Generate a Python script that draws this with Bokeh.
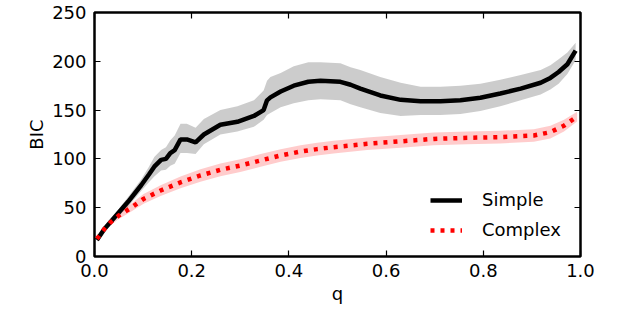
from bokeh.plotting import figure
from bokeh.models import Range1d, LinearAxis, FixedTicker, Legend, LegendItem, CustomLabelingPolicy
from bokeh.embed import file_html
from bokeh.resources import INLINE

# ---- data ----
x_ticks = [0.0, 0.2, 0.4, 0.6, 0.8, 1.0]
x_tick_labels = ["0.0", "0.2", "0.4", "0.6", "0.8", "1.0"]
y_ticks = [0, 50, 100, 150, 200, 250]
y_tick_labels = ["0", "50", "100", "150", "200", "250"]

simple_q = [0.005, 0.02, 0.041, 0.069, 0.096, 0.112, 0.123, 0.137, 0.147, 0.156,
            0.165, 0.177, 0.19, 0.208, 0.225, 0.259, 0.294, 0.328, 0.348, 0.355,
            0.362, 0.383, 0.41, 0.44, 0.465, 0.506, 0.527, 0.547, 0.588, 0.63,
            0.671, 0.712, 0.753, 0.794, 0.835, 0.877, 0.918, 0.938, 0.955, 0.973, 0.99]
simple_mean = [17, 28, 40, 56, 73, 84, 92, 99, 100, 106,
               109, 120, 120, 117, 125, 135, 138, 144, 150, 160,
               163, 169, 175, 179, 180, 179, 176, 172, 165, 160.5,
               159, 159, 160, 162.6, 167, 172, 178, 183, 189, 197, 211]
simple_lo = [15, 26, 37, 51, 67, 76, 82, 88, 89, 93,
             95, 106, 106, 105, 115, 125, 128, 133, 140, 145,
             147, 153, 157, 160, 161, 160, 156, 153, 147, 144,
             145, 145, 146, 149, 154, 160, 166, 171, 177, 187, 201]
simple_hi = [19, 30, 43, 61, 79, 92, 102, 109, 112, 119,
             124, 136, 136, 132, 141, 150, 154, 160, 170, 180,
             184, 188, 195, 199, 199, 198, 194, 191, 184, 178,
             174, 174, 175, 177, 181, 186, 191, 196, 202, 209, 219]

complex_q = [0.005, 0.02, 0.033, 0.05, 0.074, 0.101, 0.136, 0.177, 0.218, 0.259,
             0.30, 0.342, 0.383, 0.424, 0.458, 0.492, 0.561, 0.63, 0.698, 0.767,
             0.835, 0.904, 0.938, 0.966, 0.993]
complex_mean = [18, 28, 35, 42, 49.5, 59, 67.6, 76, 83, 88.8,
                93.2, 98.4, 103.5, 107.5, 110, 112, 115.5, 118, 120.5, 121.6,
                122.3, 124, 127.4, 134, 143.4]
complex_err = [1.5, 2.5, 3, 3.5, 4, 5, 5.5, 6, 6.5, 6.5,
               6.5, 6.5, 6.5, 6.5, 6.5, 6.5, 6.5, 6.5, 6.5, 6.5,
               6.5, 6.5, 6.5, 6, 5]

FONT = "DejaVu Sans"
FS = "18px"

p = figure(width=622, height=309, x_range=Range1d(0, 1), y_range=Range1d(0, 250),
           output_backend="svg", toolbar_location=None,
           min_border_left=94, min_border_right=42, min_border_top=12, min_border_bottom=53)
p.grid.visible = False
p.outline_line_color = "black"
p.outline_line_width = 2.5
p.background_fill_color = "white"
p.border_fill_color = "white"

# bands
p.varea(x=simple_q, y1=simple_lo, y2=simple_hi, fill_color="black", fill_alpha=0.2)
c_lo = [m - e for m, e in zip(complex_mean, complex_err)]
c_hi = [m + e for m, e in zip(complex_mean, complex_err)]
p.varea(x=complex_q, y1=c_lo, y2=c_hi, fill_color="red", fill_alpha=0.2)

l_simple = p.line(simple_q, simple_mean, line_color="black", line_width=4.5)
l_complex = p.line(complex_q, complex_mean, line_color="red", line_width=4.5, line_dash="4 6")

def style_axis(ax):
    ax.axis_line_color = None
    ax.major_tick_in = 6
    ax.major_tick_out = 0
    ax.major_tick_line_color = "black"
    ax.major_tick_line_width = 1.2
    ax.minor_tick_line_color = None
    ax.major_label_text_font = FONT
    ax.major_label_text_font_size = FS
    ax.major_label_text_color = "black"
    ax.axis_label_text_font = FONT
    ax.axis_label_text_font_size = FS
    ax.axis_label_text_font_style = "normal"
    ax.axis_label_text_color = "black"

p.xaxis.ticker = FixedTicker(ticks=x_ticks)
p.xaxis.major_label_overrides = {t: s for t, s in zip(x_ticks, x_tick_labels)}
p.yaxis.ticker = FixedTicker(ticks=y_ticks)
p.yaxis.major_label_overrides = {t: s for t, s in zip(y_ticks, y_tick_labels)}
style_axis(p.xaxis[0])
style_axis(p.yaxis[0])
p.xaxis.axis_label = "q"
p.yaxis.axis_label = "BIC"
p.xaxis.major_label_standoff = 7
p.yaxis.major_label_standoff = 8
p.xaxis.axis_label_standoff = 3
p.yaxis.axis_label_standoff = 2

for loc, tks in (("above", x_ticks), ("right", y_ticks)):
    ax = LinearAxis(ticker=FixedTicker(ticks=tks), axis_line_color=None,
                    major_tick_in=6, major_tick_out=0, major_tick_line_width=1.2,
                    minor_tick_line_color=None, major_label_standoff=0,
                    major_label_policy=CustomLabelingPolicy(code="return []"))
    p.add_layout(ax, loc)

legend = Legend(items=[LegendItem(label="Simple", renderers=[l_simple]),
                       LegendItem(label="Complex", renderers=[l_complex])],
                location=(336, 16), border_line_color=None, background_fill_alpha=0,
                glyph_width=32, glyph_height=20, label_height=20, label_standoff=20,
                spacing=9, padding=0, margin=0,
                label_text_font=FONT, label_text_font_size=FS, label_text_color="black")
p.add_layout(legend)

open("out.html", "w").write(file_html(p, INLINE))
